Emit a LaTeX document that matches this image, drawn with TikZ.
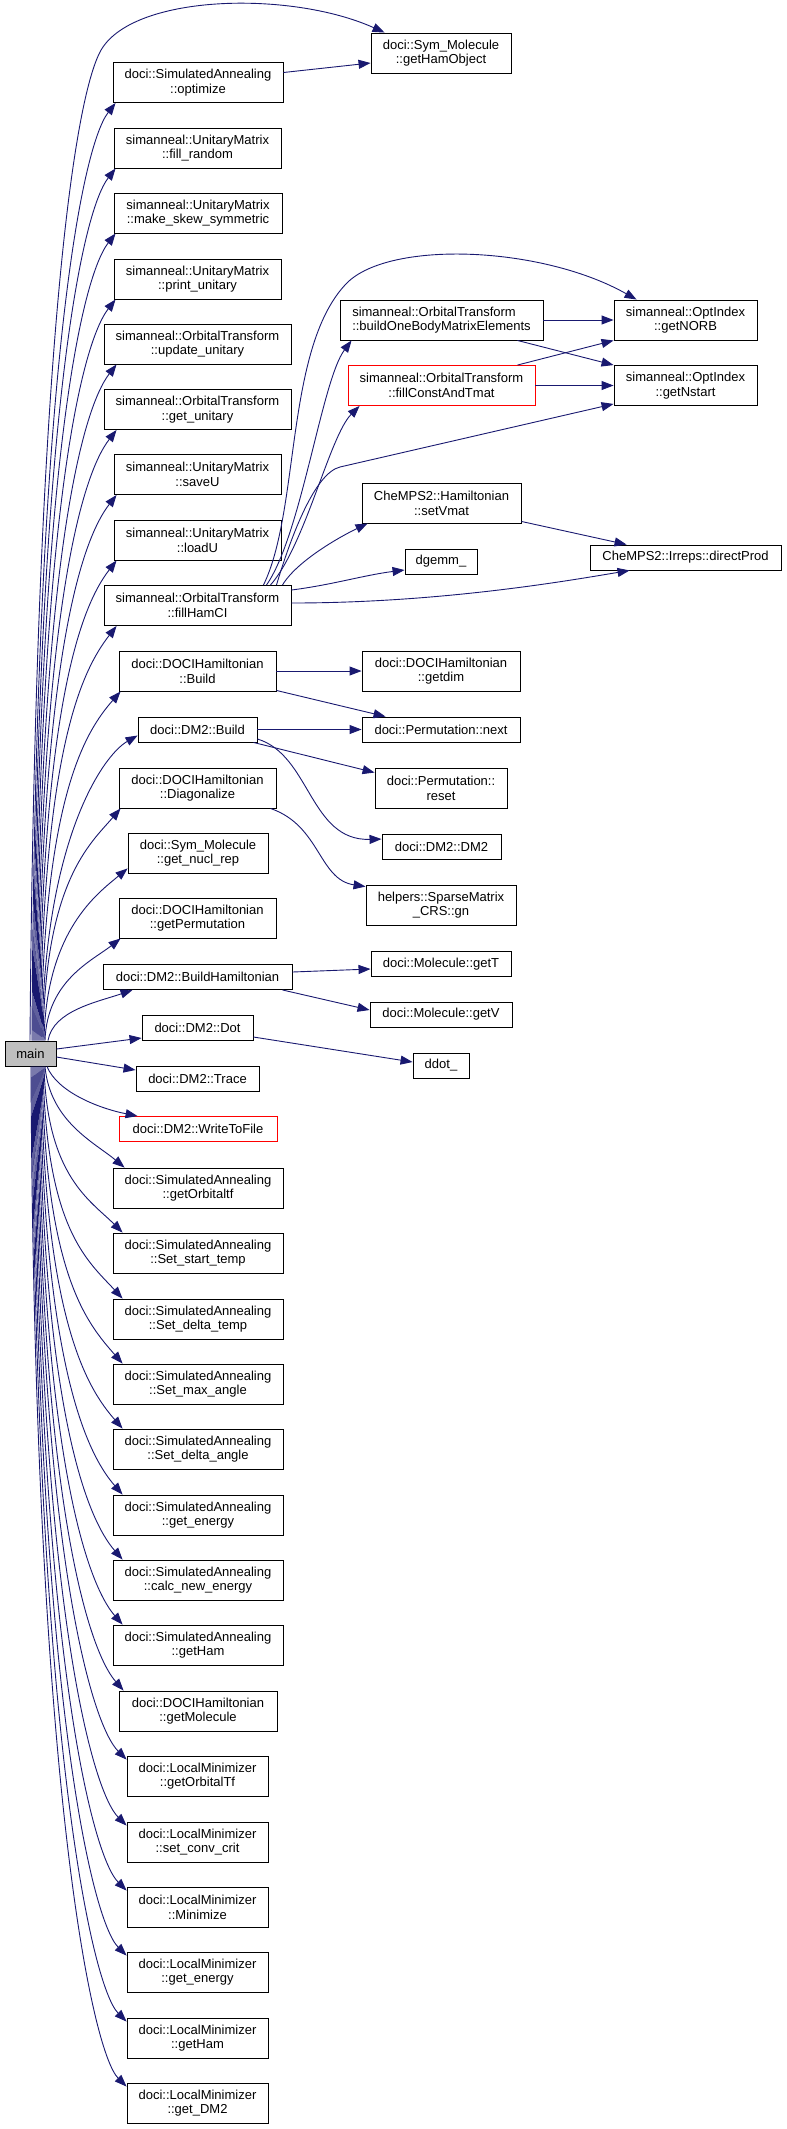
\documentclass[tikz,border=0pt]{standalone}
\usepackage{fontspec}
\setmainfont{Liberation Sans}
\usetikzlibrary{arrows.meta}
\definecolor{edgecol}{HTML}{191970}
\definecolor{graybox}{HTML}{BFBFBF}
\newcommand\dxfont{\fontsize{13}{14.7}\selectfont}
\begin{document}
\begin{tikzpicture}[x=1pt,y=-1pt,
  box/.style={draw=black, line width=0.9pt, fill=white, inner sep=0pt, align=center, font=\dxfont, minimum height=40pt},
  onel/.style={minimum height=25pt},
  redbox/.style={box, draw=red},
  mainbox/.style={box, fill=graybox},
  edge/.style={draw=edgecol, line width=0.9pt, -{Triangle[length=12pt,width=9pt]}}]
\useasboundingbox (0,0) rectangle (787,2129);
\node[box, minimum width=140pt] (gho) at (441,53) {doci::Sym\_Molecule\\::getHamObject};
\node[box, minimum width=170pt] (opt) at (198,82.5) {doci::SimulatedAnnealing\\::optimize};
\node[box, minimum width=167pt] (fr) at (197.5,148) {simanneal::UnitaryMatrix\\::fill\_random};
\node[box, minimum width=168pt] (mss) at (198,213) {simanneal::UnitaryMatrix\\::make\_skew\_symmetric};
\node[box, minimum width=167pt] (pu) at (197.5,279) {simanneal::UnitaryMatrix\\::print\_unitary};
\node[box, minimum width=187pt] (uu) at (197.5,344) {simanneal::OrbitalTransform\\::update\_unitary};
\node[box, minimum width=187pt] (gu) at (197.5,409.5) {simanneal::OrbitalTransform\\::get\_unitary};
\node[box, minimum width=167pt] (su) at (197.5,474.5) {simanneal::UnitaryMatrix\\::saveU};
\node[box, minimum width=167pt] (lu) at (197.5,540) {simanneal::UnitaryMatrix\\::loadU};
\node[box, minimum width=187pt] (fh) at (197.5,605.5) {simanneal::OrbitalTransform\\::fillHamCI};
\node[box, minimum width=203pt, align=left] (bob) at (441.5,320) {simanneal::OrbitalTransform\\::buildOneBodyMatrixElements};
\node[box, minimum width=143pt] (norb) at (685.5,320) {simanneal::OptIndex\\::getNORB};
\node[redbox, minimum width=187pt] (fct) at (441.5,385.5) {simanneal::OrbitalTransform\\::fillConstAndTmat};
\node[box, minimum width=143pt] (nst) at (685.5,385.5) {simanneal::OptIndex\\::getNstart};
\node[box, minimum width=159pt] (svm) at (441.5,503) {CheMPS2::Hamiltonian\\::setVmat};
\node[box, onel, minimum width=72pt] (dgm) at (441,561.5) {dgemm\_};
\node[box, onel, minimum width=191pt] (dp) at (685.5,557.5) {CheMPS2::Irreps::directProd};
\node[box, minimum width=157pt] (db) at (197.5,671) {doci::DOCIHamiltonian\\::Build};
\node[box, minimum width=158pt] (gd) at (441,671) {doci::DOCIHamiltonian\\::getdim};
\node[box, onel, minimum width=119pt] (d2b) at (197.5,729.5) {doci::DM2::Build};
\node[box, onel, minimum width=158pt] (pn) at (441,729.5) {doci::Permutation::next};
\node[box, minimum width=132pt] (pr) at (441,788) {doci::Permutation::\\reset};
\node[box, minimum width=157pt] (dg) at (197.5,788) {doci::DOCIHamiltonian\\::Diagonalize};
\node[box, onel, minimum width=119pt] (dd) at (441.5,847) {doci::DM2::DM2};
\node[box, minimum width=140pt] (gnr) at (198,853) {doci::Sym\_Molecule\\::get\_nucl\_rep};
\node[box, minimum width=150pt] (gn) at (441,905) {helpers::SparseMatrix\\\_CRS::gn};
\node[box, minimum width=157pt] (gp) at (197.5,918) {doci::DOCIHamiltonian\\::getPermutation};
\node[box, onel, minimum width=189pt] (bh) at (197.5,977) {doci::DM2::BuildHamiltonian};
\node[box, onel, minimum width=140pt] (gt) at (441,964) {doci::Molecule::getT};
\node[box, onel, minimum width=142pt] (gv) at (441,1014.5) {doci::Molecule::getV};
\node[box, onel, minimum width=111pt] (dot) at (197.5,1028) {doci::DM2::Dot};
\node[mainbox, onel, minimum width=51pt] (main) at (30.5,1053.5) {main};
\node[box, onel, minimum width=56pt] (ddot) at (441,1065.5) {ddot\_};
\node[box, onel, minimum width=123pt] (tr) at (197.5,1079) {doci::DM2::Trace};
\node[redbox, onel, minimum width=158pt] (wtf) at (198,1129) {doci::DM2::WriteToFile};
\node[box, minimum width=170pt] (gotf) at (198,1188) {doci::SimulatedAnnealing\\::getOrbitaltf};
\node[box, minimum width=170pt] (sst) at (198,1253) {doci::SimulatedAnnealing\\::Set\_start\_temp};
\node[box, minimum width=170pt] (sdt) at (198,1319) {doci::SimulatedAnnealing\\::Set\_delta\_temp};
\node[box, minimum width=170pt] (sma) at (198,1384) {doci::SimulatedAnnealing\\::Set\_max\_angle};
\node[box, minimum width=170pt] (sda) at (198,1449) {doci::SimulatedAnnealing\\::Set\_delta\_angle};
\node[box, minimum width=170pt] (sge) at (198,1515) {doci::SimulatedAnnealing\\::get\_energy};
\node[box, minimum width=170pt] (cne) at (198,1580) {doci::SimulatedAnnealing\\::calc\_new\_energy};
\node[box, minimum width=170pt] (sgh) at (198,1645) {doci::SimulatedAnnealing\\::getHam};
\node[box, minimum width=158pt] (gmol) at (198,1711) {doci::DOCIHamiltonian\\::getMolecule};
\node[box, minimum width=141pt] (lgo) at (197.5,1776) {doci::LocalMinimizer\\::getOrbitalTf};
\node[box, minimum width=141pt] (scc) at (197.5,1842) {doci::LocalMinimizer\\::set\_conv\_crit};
\node[box, minimum width=141pt] (lmin) at (197.5,1907) {doci::LocalMinimizer\\::Minimize};
\node[box, minimum width=141pt] (lge) at (197.5,1972) {doci::LocalMinimizer\\::get\_energy};
\node[box, minimum width=141pt] (lgh) at (197.5,2038) {doci::LocalMinimizer\\::getHam};
\node[box, minimum width=141pt] (ldm) at (197.5,2103) {doci::LocalMinimizer\\::get\_DM2};

% main upward edges
\draw[edge] ([xshift=-0.5pt]main.north) .. controls (35,400) and (70,110) .. (100,52) .. controls (130,-6) and (290,-10) .. ([xshift=14pt]gho.north west);
\draw[edge] ([xshift=1.5pt]main.north) .. controls +(3,-657) and +(-35,45) .. ([xshift=3pt]opt.south west);
\draw[edge] ([xshift=2.5pt]main.north) .. controls +(3,-611) and +(-35,45) .. ([xshift=2pt]fr.south west);
\draw[edge] ([xshift=3.5pt]main.north) .. controls +(3,-566) and +(-35,45) .. ([xshift=2pt]mss.south west);
\draw[edge] ([xshift=4.5pt]main.north) .. controls +(3,-519) and +(-35,45) .. ([xshift=2pt]pu.south west);
\draw[edge] ([xshift=5.5pt]main.north) .. controls +(3,-474) and +(-35,45) .. ([xshift=13pt]uu.south west);
\draw[edge] ([xshift=6.5pt]main.north) .. controls +(3,-428) and +(-35,45) .. ([xshift=13pt]gu.south west);
\draw[edge] ([xshift=7.5pt]main.north) .. controls +(3,-383) and +(-35,45) .. ([xshift=3pt]su.south west);
\draw[edge] ([xshift=8.5pt]main.north) .. controls +(3,-337) and +(-35,45) .. ([xshift=3pt]lu.south west);
\draw[edge] ([xshift=9.5pt]main.north) .. controls +(3,-291) and +(-35,45) .. ([xshift=13pt]fh.south west);
\draw[edge] ([xshift=10.5pt]main.north) .. controls +(3,-245) and +(-35,40) .. ([xshift=2pt]db.south west);
\draw[edge] ([xshift=11.5pt]main.north) .. controls +(2,-200) and +(-35,20) .. ([yshift=-6pt]d2b.west);
\draw[edge] ([xshift=12.5pt]main.north) .. controls +(2,-160) and +(-30,35) .. ([xshift=2pt]dg.south west);
\draw[edge] ([xshift=13.5pt]main.north) .. controls +(2,-110) and +(-30,25) .. ([yshift=5pt]gnr.south west);
\draw[edge] ([xshift=14.5pt]main.north) .. controls +(2,-60) and +(-28,22) .. ([xshift=2pt]gp.south west);
\draw[edge] ([xshift=17.5pt]main.north) .. controls +(5,-30) and +(-35,12) .. ([xshift=30pt]bh.south west);
% main right edges
\draw[edge] ([yshift=4.5pt]main.east) -- ([yshift=-10pt]dot.west);
\draw[edge] ([yshift=-3.5pt]main.east) -- ([yshift=9pt]tr.west);
% main downward edges
\draw[edge] ([xshift=16.5pt]main.south) .. controls +(10,25) and +(-40,-8) .. ([xshift=19pt]wtf.north west);
\draw[edge] ([xshift=14.5pt]main.south) .. controls +(5,55) and +(-30,-25) .. ([xshift=12pt]gotf.north west);
\draw[edge] ([xshift=13.5pt]main.south) .. controls +(3,110) and +(-32,-32) .. ([xshift=10pt]sst.north west);
\draw[edge] ([xshift=12.5pt]main.south) .. controls +(3,163) and +(-35,-38) .. ([xshift=10pt]sdt.north west);
\draw[edge] ([xshift=11.5pt]main.south) .. controls +(3,209) and +(-35,-40) .. ([xshift=10pt]sma.north west);
\draw[edge] ([xshift=10.5pt]main.south) .. controls +(3,254) and +(-35,-40) .. ([xshift=10pt]sda.north west);
\draw[edge] ([xshift=9.5pt]main.south) .. controls +(3,300) and +(-35,-40) .. ([xshift=10pt]sge.north west);
\draw[edge] ([xshift=8.5pt]main.south) .. controls +(3,346) and +(-35,-40) .. ([xshift=10pt]cne.north west);
\draw[edge] ([xshift=7.5pt]main.south) .. controls +(3,391) and +(-35,-40) .. ([xshift=10pt]sgh.north west);
\draw[edge] ([xshift=6.5pt]main.south) .. controls +(3,437) and +(-35,-40) .. ([xshift=5pt]gmol.north west);
\draw[edge] ([xshift=5.5pt]main.south) .. controls +(3,486) and +(-35,-35) .. ([yshift=-4pt]lgo.north west);
\draw[edge] ([xshift=4.5pt]main.south) .. controls +(3,532) and +(-35,-35) .. ([yshift=-4pt]scc.north west);
\draw[edge] ([xshift=3.5pt]main.south) .. controls +(3,578) and +(-35,-35) .. ([yshift=-4pt]lmin.north west);
\draw[edge] ([xshift=2.5pt]main.south) .. controls +(3,623) and +(-35,-35) .. ([yshift=-4pt]lge.north west);
\draw[edge] ([xshift=1.5pt]main.south) .. controls +(3,669) and +(-35,-35) .. ([yshift=-4pt]lgh.north west);
\draw[edge] ([xshift=0.5pt]main.south) .. controls +(3,715) and +(-35,-35) .. ([yshift=-4pt]ldm.north west);

% second level
\draw[edge] ([yshift=10pt]opt.east) -- ([yshift=-10pt]gho.west);
\draw[edge] ([xshift=-28pt]fh.north east) .. controls (300,510) and (285,350) .. (345,285) .. controls (385,240) and (540,245) .. ([xshift=23pt]norb.north west);
\draw[edge] ([xshift=-25pt]fh.north east) .. controls +(35,-50) and +(-30,40) .. ([xshift=12pt]bob.south west);
\draw[edge] ([xshift=-21pt]fh.north east) .. controls +(35,-40) and +(-30,30) .. ([xshift=12pt]fct.south west);
\draw[edge] ([xshift=-15pt]fh.north east) .. controls +(15,-50) and +(-25,6) .. (340,467) -- ([yshift=2pt]nst.south west);
\draw[edge] ([xshift=-9pt]fh.north east) .. controls +(15,-25) and +(-25,12) .. ([xshift=6pt]svm.south west);
\draw[edge] ([yshift=15.5pt]fh.east) .. controls +(40,-5) and +(-40,5) .. ([yshift=-8.5pt]dgm.west);
\draw[edge] ([yshift=2.5pt]fh.east) .. controls +(150,0) and +(-60,10) .. ([xshift=40pt]dp.south west);
\draw[edge] (bob.east) -- (norb.west);
\draw[edge] ([xshift=-26pt]bob.south east) -- (nst.north west);
\draw[edge] ([xshift=-18pt]fct.north east) -- (norb.south west);
\draw[edge] (fct.east) -- (nst.west);
\draw[edge] ([yshift=2pt]svm.south east) -- ([xshift=37pt]dp.north west);
\draw[edge] (db.east) -- (gd.west);
\draw[edge] ([yshift=1pt]db.south east) -- ([xshift=24pt]pn.north west);
\draw[edge] (d2b.east) -- (pn.west);
\draw[edge] ([xshift=-4pt]d2b.south east) -- ([yshift=-5pt]pr.north west);
\draw[edge] ([yshift=-9.5pt]d2b.east) .. controls +(53,16) and +(-72,2) .. ([yshift=-5pt]dd.north west);
\draw[edge] ([xshift=-6pt]dg.south east) .. controls +(50,17) and +(-47,-7) .. ([yshift=-2pt]gn.north west);
\draw[edge] ([yshift=5pt]bh.east) -- ([yshift=-5pt]gt.west);
\draw[edge] ([xshift=-10pt]bh.south east) -- ([yshift=4.5pt]gv.west);
\draw[edge] ([yshift=-9pt]dot.east) -- ([yshift=3.5pt]ddot.west);
\end{tikzpicture}
\end{document}
